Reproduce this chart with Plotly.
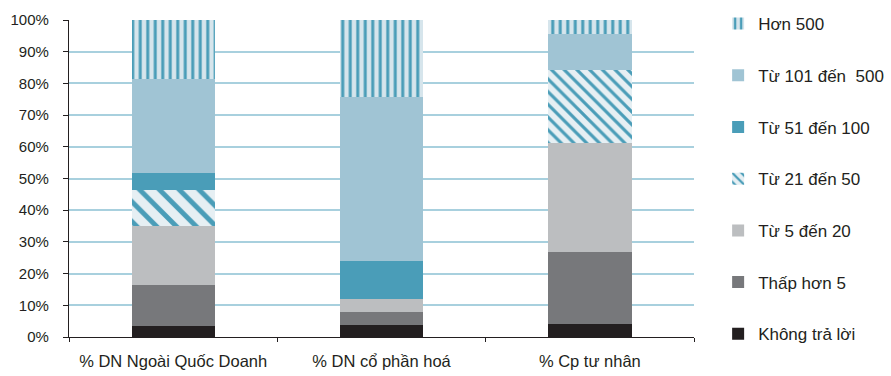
import plotly.graph_objects as go

categories = ["% DN Ngoài Quốc Doanh", "% DN cổ phần hoá", "% Cp tư nhân"]

# Share of firms (%) by size band, bottom to top of each stack
khong_tra_loi = [3.5, 3.8, 4.2]
thap_hon_5 = [12.9, 4.1, 22.6]
tu_5_den_20 = [18.6, 4.1, 34.4]
tu_21_den_50 = [11.4, 0.0, 23.1]
tu_51_den_100 = [5.3, 12.0, 0.0]
tu_101_den_500 = [29.7, 51.7, 11.3]
hon_500 = [18.6, 24.3, 4.4]

y_ticks = list(range(0, 101, 10))
y_labels = [f"{v}%" for v in y_ticks]

TEAL = "#4a9db8"
LIGHT_BLUE = "#a0c4d4"

series = [
    ("Không trả lời", khong_tra_loi, dict(color="#231f20")),
    ("Thấp hơn 5", thap_hon_5, dict(color="#77787b")),
    ("Từ 5 đến 20", tu_5_den_20, dict(color="#bcbec0")),
    ("Từ 21 đến 50", tu_21_den_50,
     dict(color="#e6eff3",
          pattern=dict(shape="\\", fgcolor=TEAL, bgcolor="#e6eff3",
                       size=[14, 14, 9], solidity=0.35, fillmode="replace",
                       fgopacity=1))),
    ("Từ 51 đến 100", tu_51_den_100, dict(color=TEAL)),
    ("Từ 101 đến  500", tu_101_den_500, dict(color=LIGHT_BLUE)),
    ("Hơn 500", hon_500,
     dict(color="#d6e5ec",
          pattern=dict(shape="|", fgcolor=TEAL, bgcolor="#d6e5ec",
                       size=7.5, solidity=0.4, fillmode="replace",
                       fgopacity=1))),
]

fig = go.Figure()
n = len(series)
for i, (name, vals, marker) in enumerate(series):
    fig.add_trace(go.Bar(
        x=categories, y=vals, name=name,
        marker=dict(line=dict(width=0), **marker),
        width=0.4, legendgroup=f"g{i}", legendrank=n - i,
    ))

font = "Liberation Sans, Arial, sans-serif"
fig.update_layout(
    barmode="stack",
    width=891, height=376,
    margin=dict(l=69, r=197, t=20, b=39, autoexpand=False),
    paper_bgcolor="white", plot_bgcolor="white",
    font=dict(family=font, size=15, color="#231f20"),
    legend=dict(
        x=1.0386, y=1.044, xanchor="left", yanchor="top",
        traceorder="grouped", tracegroupgap=26.6,
        font=dict(size=17, color="#231f20"),
        itemwidth=30, bgcolor="rgba(0,0,0,0)", maxheight=1,
    ),
    xaxis=dict(
        showline=True, linecolor="#231f20", linewidth=1.3,
        ticks="outside", ticklen=4, tickcolor="#231f20", tickson="boundaries",
        tickfont=dict(size=16.5), showgrid=False, ticklabelstandoff=9,
    ),
    yaxis=dict(
        range=[0, 100], tickmode="array", tickvals=y_ticks, ticktext=y_labels,
        showline=True, linecolor="#231f20", linewidth=1.3,
        ticks="outside", ticklen=5, tickcolor="#231f20",
        showgrid=True, gridcolor="#a8d0de", gridwidth=1.5,
        tickfont=dict(size=15), zeroline=False, ticklabelstandoff=11,
    ),
)

fig.write_html("out.html")
